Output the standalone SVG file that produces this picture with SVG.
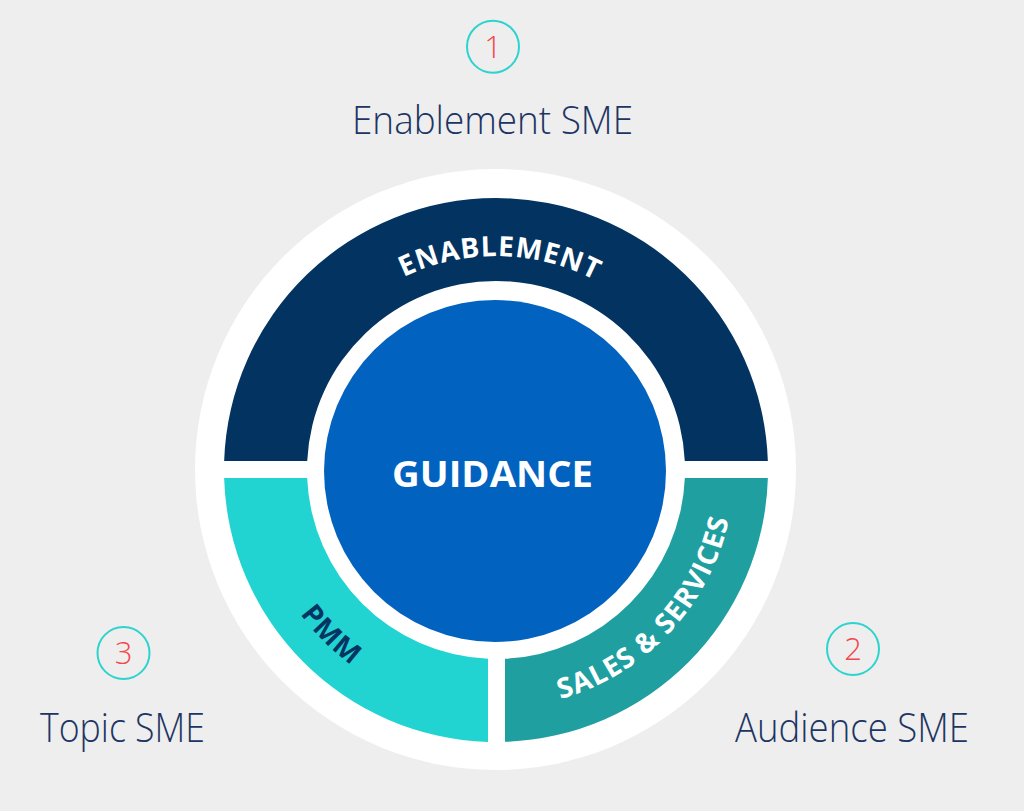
<svg xmlns="http://www.w3.org/2000/svg" width="1024" height="811" viewBox="0 0 1024 811">
  <style>
    .sme { font-family: "Open Sans", "Liberation Sans", sans-serif; font-weight: 300; fill: #1d3563; text-anchor: middle; }
    .num { font-family: "Open Sans", "Liberation Sans", sans-serif; font-weight: 300; fill: #f5464b; font-size: 31px; text-anchor: middle; }
    .badge { fill: none; stroke: #2dd3cf; stroke-width: 2; }
    .seg-label { font-family: "Open Sans", "Liberation Sans", sans-serif; font-weight: 700; font-size: 28px; letter-spacing: 1px; }
  </style>
  <defs>
    <path id="arcTop" d="M 282,470 A 214 214 0 0 1 710,470"/>
    <path id="arcLeft" d="M 253,470 A 243 243 0 0 0 496,713"/>
    <path id="arcRight" d="M 496,708 A 238 238 0 0 0 734,470"/>
  </defs>

  <rect width="1024" height="811" fill="#eeeeee"/>
  <circle cx="495.5" cy="469.5" r="300.5" fill="#ffffff"/>

  <g id="enablement">
    <path d="M 224.15,461 A 272 272 0 0 1 767.85,461 L 684.79,461 A 189 189 0 0 0 307.21,461 Z" fill="#033461"/>
    <text class="seg-label" fill="#ffffff"><textPath href="#arcTop" startOffset="50.6%" text-anchor="middle">ENABLEMENT</textPath></text>
  </g>

  <g id="pmm">
    <path d="M 224.12,478 A 272 272 0 0 0 488,741.88 L 488,658.83 A 189 189 0 0 1 307.17,478 Z" fill="#21d4d2"/>
    <text class="seg-label" fill="#043462"><textPath href="#arcLeft" startOffset="50%" text-anchor="middle">PMM</textPath></text>
  </g>

  <g id="sales-services">
    <path d="M 505,741.85 A 272 272 0 0 0 767.88,478 L 684.83,478 A 189 189 0 0 1 505,658.79 Z" fill="#209fa1"/>
    <text class="seg-label" fill="#ffffff"><textPath href="#arcRight" startOffset="52.2%" text-anchor="middle">SALES &amp; SERVICES</textPath></text>
  </g>

  <g id="guidance">
    <circle cx="495" cy="471" r="171" fill="#0262c0"/>
    <text x="492.5" y="487" font-family="'Open Sans', 'Liberation Sans', sans-serif" font-weight="700" font-size="35" fill="#ffffff" text-anchor="middle" textLength="201" lengthAdjust="spacingAndGlyphs">GUIDANCE</text>
  </g>

  <g id="enablement-sme">
    <circle class="badge" cx="493" cy="46.7" r="26"/>
    <text class="num" x="493" y="58">1</text>
    <text class="sme" x="492.5" y="134" font-size="38" textLength="281" lengthAdjust="spacingAndGlyphs">Enablement SME</text>
  </g>

  <g id="audience-sme">
    <circle class="badge" cx="853" cy="649" r="26"/>
    <text class="num" x="853" y="660">2</text>
    <text class="sme" x="852" y="741.7" font-size="40" textLength="234" lengthAdjust="spacingAndGlyphs">Audience SME</text>
  </g>

  <g id="topic-sme">
    <circle class="badge" cx="123.5" cy="653" r="26"/>
    <text class="num" x="123.5" y="664">3</text>
    <text class="sme" x="122.5" y="741.7" font-size="40" textLength="165" lengthAdjust="spacingAndGlyphs">Topic SME</text>
  </g>
</svg>
